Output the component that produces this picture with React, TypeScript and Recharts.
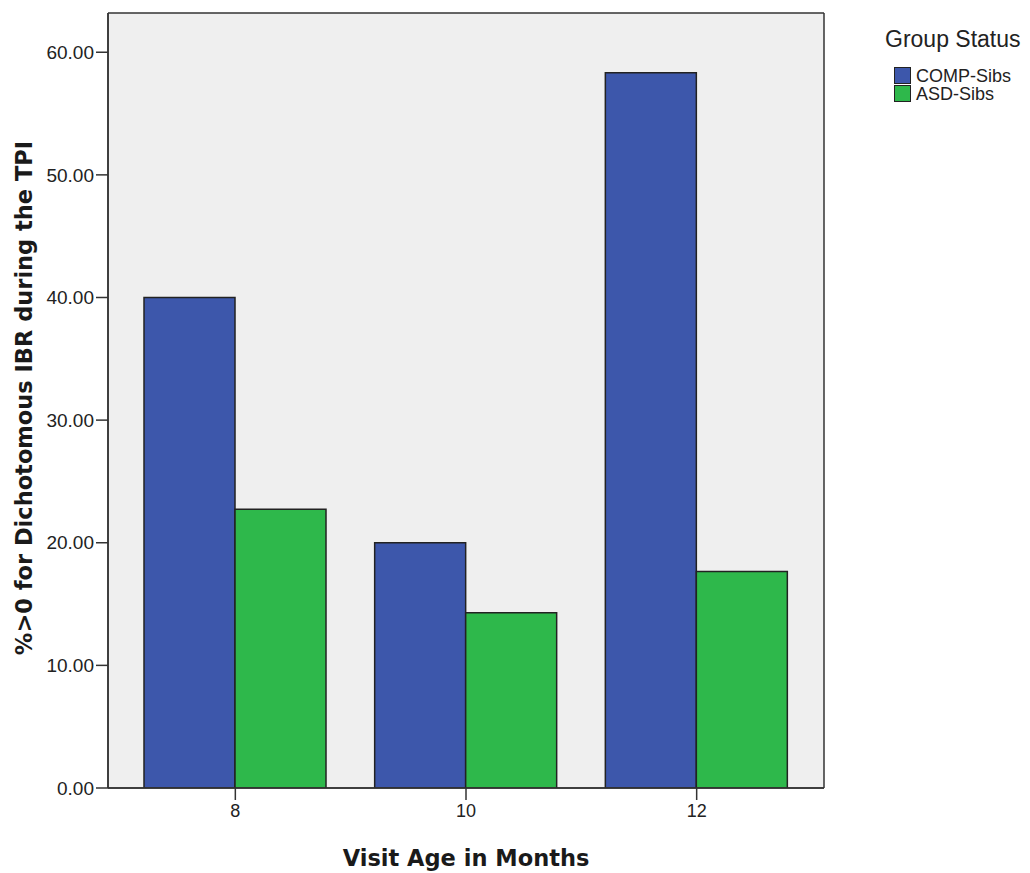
import { Bar, BarChart, CartesianGrid, XAxis, YAxis } from "recharts";

const ages = ["8", "10", "12"];
const compSibs = [40.0, 20.0, 58.33];
const asdSibs = [22.73, 14.29, 17.65];
const yTicks = [0, 10, 20, 30, 40, 50, 60];

const groups = [
  { key: "comp", name: "COMP-Sibs", color: "#3D57AB" },
  { key: "asd", name: "ASD-Sibs", color: "#2EB84B" },
];

const data = ages.map((age, i) => ({
  age,
  comp: compSibs[i],
  asd: asdSibs[i],
}));

const tickFont = "'Liberation Sans', Arial, sans-serif";
const titleFont = "'DejaVu Sans', Verdana, sans-serif";

function GroupLegend() {
  return (
    <div style={{ position: "absolute", left: 0, top: 0, fontFamily: tickFont, color: "#222" }}>
      <div
        style={{ position: "absolute", left: 885, top: 26, fontSize: 23, whiteSpace: "nowrap" }}
      >
        Group Status
      </div>
      {groups.map((g, i) => (
        <div key={g.key}>
          <div
            style={{
              position: "absolute",
              left: 894,
              top: 67 + i * 18,
              width: 17,
              height: 17,
              boxSizing: "border-box",
              background: g.color,
              border: "1.5px solid #222",
            }}
          />
          <div
            style={{
              position: "absolute",
              left: 916,
              top: 65 + i * 18,
              fontSize: 18,
              lineHeight: "22px",
              whiteSpace: "nowrap",
            }}
          >
            {g.name}
          </div>
        </div>
      ))}
    </div>
  );
}

// plot frame: lines on the plot area's borders
const frameRows = ({ offset }: any) => [offset.top, offset.top + offset.height];
const frameCols = ({ offset }: any) => [offset.left, offset.left + offset.width];

export default function App() {
  return (
    <div style={{ position: "absolute", left: 0, top: 0, width: 1030, height: 873, background: "#fff" }}>
      <BarChart
        width={1030}
        height={873}
        data={data}
        margin={{ top: 13, right: 206, left: 48, bottom: 55 }}
        barGap={0}
        barCategoryGap={24}
      >
        <CartesianGrid
          fill="#EFEFEF"
          fillOpacity={1}
          stroke="#333"
          strokeWidth={1.5}
          horizontalCoordinatesGenerator={frameRows}
          verticalCoordinatesGenerator={frameCols}
        />
        <XAxis
          dataKey="age"
          padding={{ left: 12, right: 12 }}
          height={30}
          tickSize={12}
          tickMargin={4}
          tickLine={{ stroke: "#333", strokeWidth: 1.5 }}
          axisLine={{ stroke: "#333", strokeWidth: 1.5 }}
          tick={{ fill: "#222", fontSize: 18, fontFamily: tickFont }}
        />
        <YAxis
          width={60}
          domain={[0, 63.2]}
          ticks={yTicks}
          allowDataOverflow
          tickFormatter={(v: number) => v.toFixed(2)}
          tickSize={12}
          tickMargin={2}
          tickLine={{ stroke: "#333", strokeWidth: 1.5 }}
          axisLine={{ stroke: "#333", strokeWidth: 1.5 }}
          tick={{ fill: "#222", fontSize: 19, fontFamily: tickFont }}
        />
        {groups.map((g) => (
          <Bar
            key={g.key}
            dataKey={g.key}
            name={g.name}
            fill={g.color}
            stroke="#222"
            strokeWidth={1.5}
            isAnimationActive={false}
          />
        ))}
      </BarChart>
      <GroupLegend />
      <div
        style={{
          position: "absolute",
          left: 466,
          top: 858,
          transform: "translate(-50%, -50%)",
          fontFamily: titleFont,
          fontWeight: "bold",
          fontSize: 22.5,
          color: "#1a1a1a",
          whiteSpace: "nowrap",
        }}
      >
        Visit Age in Months
      </div>
      <div
        style={{
          position: "absolute",
          left: 24,
          top: 398,
          transform: "translate(-50%, -50%) rotate(-90deg)",
          fontFamily: titleFont,
          fontWeight: "bold",
          fontSize: 22.5,
          color: "#1a1a1a",
          whiteSpace: "nowrap",
        }}
      >
        %&gt;0 for Dichotomous IBR during the TPI
      </div>
    </div>
  );
}
